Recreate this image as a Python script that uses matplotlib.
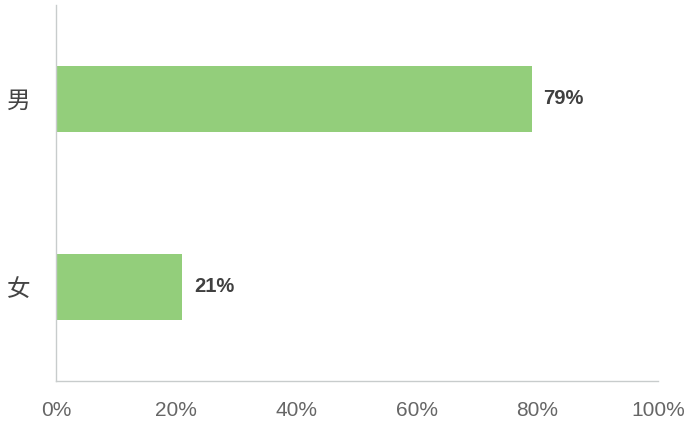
import matplotlib.pyplot as plt

plt.rcParams['font.family'] = ['Noto Sans CJK SC', 'DejaVu Sans']

# data
genders = ['女', '男']
shares = [21, 79]
value_labels = ['21%', '79%']
xticks = [0, 20, 40, 60, 80, 100]
xtick_labels = ['0%', '20%', '40%', '60%', '80%', '100%']

fig = plt.figure(figsize=(7, 4.38), dpi=100)
ax = fig.add_axes([0.08, 0.13, 0.86, 0.859])

ax.barh(range(len(genders)), shares, height=0.35, color='#93CE7B')
for i, (v, lab) in enumerate(zip(shares, value_labels)):
    ax.text(v + 2, i, lab, va='center', ha='left', fontsize=14.5,
            fontweight='bold', color='#404040', family=['Liberation Sans', 'DejaVu Sans'])

ax.set_xlim(0, 100)
ax.set_ylim(-0.5, 1.5)
ax.set_xticks(xticks)
ax.set_xticklabels(xtick_labels, fontsize=15, color='#666666', family=['Liberation Sans', 'DejaVu Sans'])
ax.set_yticks(range(len(genders)))
ax.set_yticklabels(genders, fontsize=17, color='#444444')
ax.tick_params(length=0)
ax.tick_params(axis='x', pad=14)
ax.tick_params(axis='y', pad=18)

for s in ['top', 'right']:
    ax.spines[s].set_visible(False)
for s in ['left', 'bottom']:
    ax.spines[s].set_color('#C8CCCC')
    ax.spines[s].set_linewidth(1)

fig.savefig('out.png', dpi=100)
